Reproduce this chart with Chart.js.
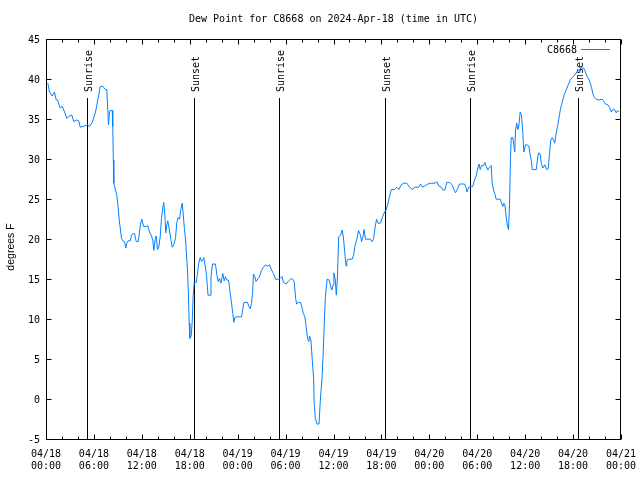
<!DOCTYPE html>
<html>
<head>
<meta charset="utf-8">
<script src="https://cdn.jsdelivr.net/npm/chart.js@4.4.1/dist/chart.umd.min.js"></script>
<style>
html,body{margin:0;padding:0;background:#fff;}
canvas{display:block;}
</style>
</head>
<body>
<canvas id="c" width="640" height="480" style="width:640px;height:480px"></canvas>
<script>
// ---- data (hours since 2024-04-18 00:00 UTC, dew point in degrees F) ----
const hours = [
0.23,0.44,0.78,1.06,1.28,1.44,1.78,2.03,2.32,2.60,2.94,3.23,3.48,3.78,4.11,4.28,4.82,5.23,5.45,5.79,
6.20,6.49,6.79,7.11,7.45,7.61,7.74,7.83,7.95,8.04,8.29,8.36,8.43,8.49,8.70,8.87,9.04,9.17,9.33,9.45,
9.62,9.83,9.99,10.12,10.29,10.54,10.71,10.87,11.08,11.30,11.55,11.71,11.83,12.00,12.21,12.55,12.75,12.96,13.21,13.37,
13.50,13.67,13.80,13.96,14.12,14.30,14.46,14.63,14.75,14.88,15.00,15.13,15.25,15.46,15.63,15.80,16.00,16.22,16.38,16.55,
16.72,16.88,17.06,17.18,17.34,17.47,17.59,17.72,17.84,17.93,18.01,18.18,18.31,18.43,18.56,18.81,18.97,19.13,19.31,19.47,
19.63,19.76,19.94,20.10,20.22,20.29,20.54,20.66,20.85,21.22,21.39,21.56,21.73,21.89,22.14,22.31,22.48,22.64,22.82,22.92,
23.07,23.23,23.39,23.52,23.64,23.85,24.48,24.64,24.77,25.23,25.39,25.57,25.73,25.86,25.98,26.15,26.30,26.57,26.73,26.99,
27.24,27.49,27.74,27.99,28.24,28.49,28.74,29.08,29.33,29.55,29.74,30.08,30.40,30.74,30.90,31.08,31.26,31.38,31.59,31.89,
32.06,32.23,32.41,32.57,32.75,32.91,33.00,33.17,33.33,33.51,33.58,33.72,33.94,34.19,34.35,34.56,34.70,34.86,34.99,35.20,
35.46,35.63,35.80,35.96,36.05,36.23,36.35,36.48,36.65,36.90,37.07,37.24,37.42,37.58,37.67,37.83,38.34,38.52,38.68,38.94,
39.13,39.38,39.51,39.70,39.82,40.01,40.63,40.82,41.01,41.20,41.39,41.57,41.89,42.14,42.39,42.60,42.80,43.01,43.23,43.64,
43.93,44.18,44.48,44.77,45.18,45.52,45.93,46.15,46.68,46.90,47.18,47.40,47.81,48.24,48.77,48.94,49.19,49.49,49.69,49.94,
50.19,50.53,50.86,51.07,51.28,51.49,51.78,52.41,52.62,52.72,52.94,53.44,53.66,53.87,54.07,54.22,54.37,54.53,54.78,54.95,
55.12,55.32,55.62,55.75,55.87,56.04,56.20,56.37,56.88,57.04,57.20,57.33,57.45,57.63,57.75,57.91,58.04,58.16,58.25,58.45,
58.58,58.70,58.79,58.95,59.08,59.20,59.38,59.54,59.71,59.83,60.04,60.21,60.46,60.63,60.79,60.88,61.38,61.58,61.71,61.88,
62.01,62.21,62.46,62.71,62.89,63.05,63.21,63.39,63.55,63.71,63.89,64.05,64.21,64.39,64.55,64.71,64.93,65.14,65.39,65.64,
65.89,66.18,66.47,66.72,67.02,67.31,67.47,67.72,67.97,68.15,68.31,68.47,68.69,68.90,69.22,69.65,69.81,70.06,70.35,70.56,
70.78,70.98,71.19,71.40,71.56,71.73
];
const dewF = [
39.6,38.5,38.0,38.5,37.5,37.5,36.5,36.7,36.0,35.2,35.5,35.6,34.8,35.0,34.9,34.1,34.25,34.4,34.2,34.7,
36.0,37.5,39.2,39.2,38.8,38.8,36.25,34.4,36.0,36.2,36.2,34.2,30.0,27.1,26.3,25.6,24.0,22.5,21.25,20.2,
19.9,19.8,19.0,19.6,19.9,19.9,20.6,20.8,20.8,19.8,19.8,21.0,22.0,22.6,21.7,21.7,21.8,21.0,20.5,20.0,
18.7,20.1,20.5,18.8,19.1,20.4,22.7,24.1,24.7,23.1,20.9,21.9,22.4,21.25,20.1,19.1,19.4,20.3,22.2,22.8,
22.6,23.8,24.6,23.25,21.3,20.1,18.25,16.25,13.0,9.6,7.7,8.0,9.8,13.1,14.7,14.7,15.8,17.1,17.8,17.3,
17.5,17.8,16.75,15.6,14.0,13.1,13.1,15.4,17.0,17.0,15.7,14.8,15.2,14.6,15.8,14.9,15.4,15.0,15.0,14.6,
13.3,12.1,10.8,9.7,10.3,10.4,10.4,11.3,12.2,12.2,11.75,11.4,12.1,13.3,15.75,15.4,14.8,15.2,15.4,16.2,
16.6,16.9,16.7,16.9,16.25,15.8,15.1,15.1,15.2,15.45,14.7,14.5,14.9,15.2,15.1,14.8,12.7,12.0,12.2,12.2,
11.5,10.8,10.4,9.2,7.7,7.3,8.0,7.5,5.2,2.7,-0.4,-2.3,-3.0,-3.0,0.0,2.7,5.6,10.0,12.9,15.1,
15.0,14.25,13.75,14.4,15.9,15.0,13.1,15.0,20.4,20.6,21.25,20.4,18.3,16.75,17.3,17.6,17.6,18.1,19.2,20.2,
21.2,20.6,19.8,20.5,21.3,20.1,20.1,19.8,20.1,21.5,22.6,22.1,22.1,22.9,23.5,23.75,24.5,25.4,26.3,26.3,
26.6,26.3,26.9,27.1,27.1,26.6,26.3,26.6,26.6,27.0,26.6,26.75,27.0,27.1,27.1,27.3,26.75,26.6,26.25,26.25,
27.2,27.2,26.9,26.3,25.9,26.3,27.0,27.0,26.5,26.0,26.6,26.7,27.5,28.0,29.0,29.5,28.8,29.3,29.3,29.7,
29.2,28.75,29.2,29.3,27.1,26.25,25.75,25.1,25.1,24.6,24.2,24.6,24.4,22.9,21.9,21.3,24.4,30.2,32.8,32.8,
31.9,31.0,33.75,34.6,33.8,34.25,36.0,35.6,33.3,31.0,31.9,31.9,31.75,30.6,29.8,28.8,28.8,30.4,30.9,30.75,
29.6,29.0,29.4,28.8,28.9,30.8,32.5,32.8,32.5,32.1,33.4,34.2,35.1,36.2,36.9,37.5,38.3,38.75,39.4,40.0,
40.3,40.6,41.0,41.3,41.5,41.5,41.2,40.5,40.1,39.6,39.1,38.3,37.8,37.6,37.5,37.6,37.4,37.0,36.9,36.6,
36.0,36.3,36.3,35.9,36.2,36.0
];
const eventHours = [5.13, 18.47, 29.18, 42.51, 53.10, 66.60];
const eventNames = ['Sunrise','Sunset','Sunrise','Sunset','Sunrise','Sunset'];
const xTickDates = ['04/18','04/18','04/18','04/18','04/19','04/19','04/19','04/19','04/20','04/20','04/20','04/20','04/21'];
const xTickTimes = ['00:00','06:00','12:00','18:00','00:00','06:00','12:00','18:00','00:00','06:00','12:00','18:00','00:00'];
const seriesName = 'C8668';
const titleText = 'Dew Point for C8668 on 2024-Apr-18 (time in UTC)';
const yTitle = 'degrees F';

const LINE = 'rgb(0,128,255)';
const MONO = '"DejaVu Sans Mono", monospace';

const decor = {
  id: 'decor',
  beforeDatasetsDraw(chart) {
    const {ctx, chartArea: a, scales: {x}} = chart;
    ctx.save();
    ctx.strokeStyle = '#000';
    ctx.lineWidth = 1;
    ctx.fillStyle = '#000';
    ctx.font = '10px ' + MONO;
    eventHours.forEach((h, i) => {
      const px = Math.round(x.getPixelForValue(h)) + 0.5;
      ctx.beginPath();
      ctx.moveTo(px, 98);
      ctx.lineTo(px, a.bottom);
      ctx.stroke();
      ctx.save();
      ctx.translate(px + 1.5, 92);
      ctx.rotate(-Math.PI / 2);
      ctx.textAlign = 'left';
      ctx.textBaseline = 'middle';
      ctx.fillText(eventNames[i], 0, 0);
      ctx.restore();
    });
    ctx.restore();
  },
  afterDraw(chart) {
    const {ctx, chartArea: a, scales: {x, y}} = chart;
    ctx.save();
    ctx.strokeStyle = '#000';
    ctx.lineWidth = 1;
    const L = Math.round(a.left) + 0.5, R = Math.round(a.right) - 0.5;
    const T = Math.round(a.top) - 0.5, B = Math.round(a.bottom) - 0.5;
    ctx.strokeRect(L, T, R - L, B - T);
    ctx.beginPath();
    for (let h = 0; h <= 72; h += 2) {
      const px = Math.round(x.getPixelForValue(h)) + 0.5;
      const len = (h % 6 === 0) ? 5 : 3;
      ctx.moveTo(px, B); ctx.lineTo(px, B - len);
      ctx.moveTo(px, T); ctx.lineTo(px, T + len);
    }
    for (let v = -5; v <= 45; v += 5) {
      const py = Math.round(y.getPixelForValue(v)) - 0.5;
      ctx.moveTo(L, py); ctx.lineTo(L + 5, py);
      ctx.moveTo(R, py); ctx.lineTo(R - 5, py);
    }
    ctx.stroke();
    // title
    ctx.fillStyle = '#000';
    ctx.font = '10px ' + MONO;
    ctx.textAlign = 'center';
    ctx.textBaseline = 'middle';
    ctx.fillText(titleText, (a.left + a.right) / 2, 19);
    // legend
    ctx.textAlign = 'right';
    ctx.fillText(seriesName, 577, 50);
    ctx.strokeStyle = LINE;
    ctx.beginPath();
    ctx.moveTo(581, 49.5); ctx.lineTo(610, 49.5);
    ctx.stroke();
    // y title
    ctx.save();
    ctx.translate(11, 247);
    ctx.rotate(-Math.PI / 2);
    ctx.fillStyle = '#000';
    ctx.font = '10.5px "Liberation Sans", Arial, sans-serif';
    ctx.textAlign = 'center';
    ctx.textBaseline = 'middle';
    ctx.fillText(yTitle, 0, 0);
    ctx.restore();
    ctx.restore();
  }
};

new Chart(document.getElementById('c'), {
  type: 'line',
  data: {
    datasets: [{
      label: seriesName,
      data: hours.map((h, i) => ({x: h, y: dewF[i]})),
      borderColor: LINE,
      borderWidth: 1,
      pointRadius: 0,
      tension: 0,
      fill: false
    }]
  },
  options: {
    responsive: false,
    animation: false,
    events: [],
    layout: {padding: {top: 40, right: 19, left: 0, bottom: 0}},
    plugins: {legend: {display: false}, title: {display: false}, tooltip: {enabled: false}},
    scales: {
      x: {
        type: 'linear', min: 0, max: 72,
        grid: {display: false, drawTicks: false},
        border: {display: false},
        ticks: {
          stepSize: 6, autoSkip: false, maxRotation: 0, minRotation: 0,
          padding: 8, color: '#000',
          font: {family: MONO, size: 10, lineHeight: 1.2},
          callback: (v) => { const i = Math.round(v / 6); return [xTickDates[i], xTickTimes[i]]; }
        },
        afterFit: (s) => { s.height = 40; s.paddingLeft = 0; s.paddingRight = 0; }
      },
      y: {
        min: -5, max: 45,
        grid: {display: false, drawTicks: false},
        border: {display: false},
        ticks: {stepSize: 5, padding: 6, color: '#000', font: {family: MONO, size: 10}},
        afterFit: (s) => { s.width = 46; s.paddingTop = 0; s.paddingBottom = 0; }
      }
    }
  },
  plugins: [decor]
});
</script>
</body>
</html>
